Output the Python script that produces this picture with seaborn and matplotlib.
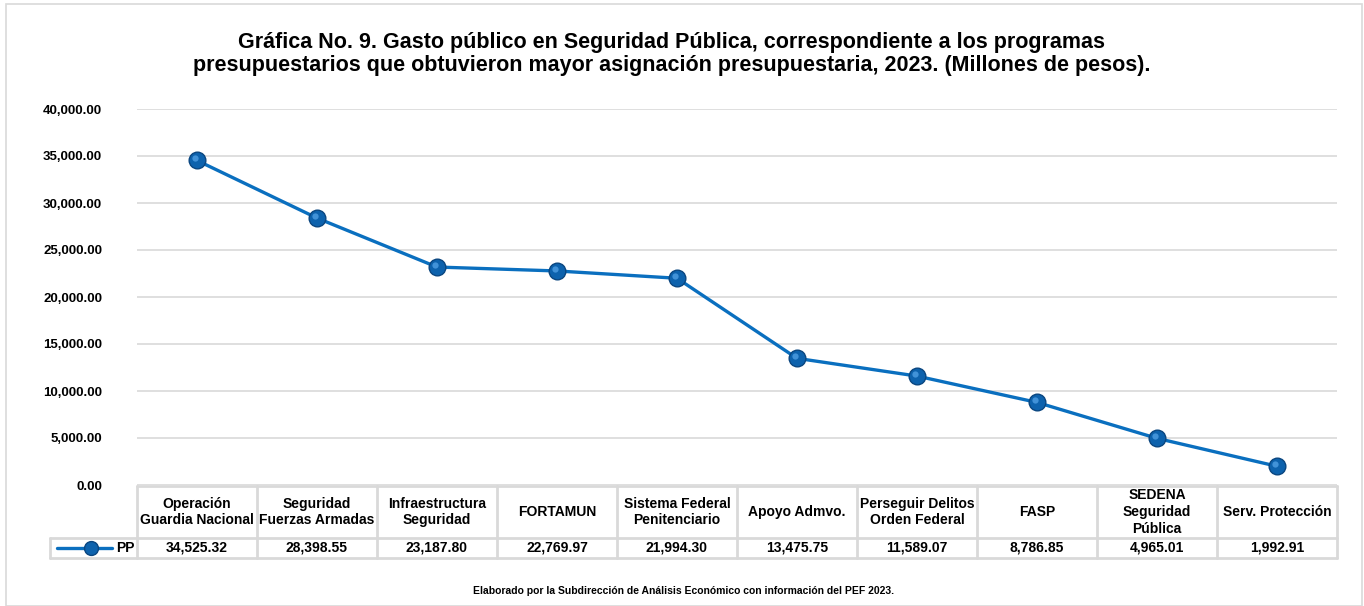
import matplotlib
matplotlib.use("Agg")
import matplotlib.pyplot as plt
import matplotlib.transforms as mtransforms
import seaborn as sns
import pandas as pd

# Data
programas = ["Operación\nGuardia Nacional", "Seguridad\nFuerzas Armadas", "Infraestructura\nSeguridad",
             "FORTAMUN", "Sistema Federal\nPenitenciario", "Apoyo Admvo.",
             "Perseguir Delitos\nOrden Federal", "FASP", "SEDENA\nSeguridad\nPública", "Serv. Protección"]
gasto = [34525.32, 28398.55, 23187.80, 22769.97, 21994.30, 13475.75, 11589.07, 8786.85, 4965.01, 1992.91]
serie = "PP"
titulo = ("Gráfica No. 9. Gasto público en Seguridad Pública, correspondiente a los programas\n"
          "presupuestarios que obtuvieron mayor asignación presupuestaria, 2023. (Millones de pesos).")
fuente = "Elaborado por la Subdirección de Análisis Económico con información del PEF 2023."

df = pd.DataFrame({"pos": range(len(programas)), "gasto": gasto})

sns.set_theme(style="white")
plt.rcParams['font.family'] = ['Liberation Sans', 'DejaVu Sans']
plt.rcParams['font.weight'] = 'bold'
plt.rcParams['text.color'] = 'black'
plt.rcParams['ytick.color'] = 'black'

W, H = 1364, 606
fig = plt.figure(figsize=(W / 100, H / 100), dpi=100)

# outer border
fig.patches.append(plt.Rectangle((6 / W, 0), 1356 / W, 1 - 4 / H, transform=fig.transFigure,
                                 fill=False, edgecolor='#D9D9D9', lw=1.2))

x0, x1 = 137, 1337
ax = fig.add_axes([x0 / W, 1 - 485 / H, (x1 - x0) / W, (485 - 109) / H])
line_c = '#0A6FBF'
sns.lineplot(data=df, x="pos", y="gasto", ax=ax, color=line_c, lw=2.4, marker='o', markersize=12,
             markerfacecolor='#0D62AD', markeredgecolor='#0A4680', markeredgewidth=1.0, zorder=3)
# small highlight on the markers
hl = mtransforms.offset_copy(ax.transData, fig=fig, x=-1.5, y=1.5, units='points')
ax.plot(df["pos"], df["gasto"], ls='none', marker='o', markersize=4.5, color='#4F9FE3', alpha=0.8,
        markeredgewidth=0, transform=hl, zorder=4)

ax.set_xlim(-0.5, len(programas) - 0.5)
ax.set_ylim(0, 40000)
ax.set_yticks(range(0, 40001, 5000))
ax.set_yticklabels([f"{v:,.2f}" for v in range(0, 40001, 5000)], fontsize=9.5, fontweight='bold')
ax.tick_params(axis='y', length=0, pad=25)
ax.set_xticks([])
ax.set_xlabel("")
ax.set_ylabel("")
ax.grid(axis='y', color='#D9D9D9', lw=1.2)
for s in ax.spines.values():
    s.set_visible(False)

# data table under the plot
tab = fig.add_axes([x0 / W, 1 - 558 / H, (x1 - x0) / W, (558 - 485) / H], sharex=ax)
tab.set_ylim(73, 0)
tab.axis('off')
gc = '#D9D9D9'
left = -0.5 - (x0 - 50) / 120
n = len(programas)
tab.plot([-0.5, n - 0.5], [0.5, 0.5], color=gc, lw=2, clip_on=False)
tab.plot([left, n - 0.5], [53, 53], color=gc, lw=2, clip_on=False)
tab.plot([left, n - 0.5], [72.5, 72.5], color=gc, lw=2, clip_on=False)
tab.plot([left, left], [53, 72.5], color=gc, lw=2, clip_on=False)
for k in range(n + 1):
    tab.plot([k - 0.5, k - 0.5], [0.5, 72.5], color=gc, lw=2, clip_on=False)
for i, (lab, v) in enumerate(zip(programas, gasto)):
    tab.text(i, 27, lab, ha='center', va='center', fontsize=10, fontweight='bold', linespacing=1.25)
    tab.text(i, 63, f"{v:,.2f}", ha='center', va='center', fontsize=10, fontweight='bold')

# legend key in the table
px = lambda p: (p - x0) / 120 - 0.5
tab.plot([px(57), px(112)], [63, 63], color=line_c, lw=2.4, clip_on=False)
tab.plot([px(91)], [63], marker='o', markersize=10, color='#0D62AD', markeredgecolor='#0A4680',
         clip_on=False)
tab.text(px(116), 63, serie, ha='left', va='center', fontsize=10, fontweight='bold')

fig.text(672 / W, 1 - 54 / H, titulo, ha='center', va='center', fontsize=15.5, fontweight='bold',
         linespacing=1.1)
fig.text(684 / W, 1 - 591 / H, fuente, ha='center', va='center', fontsize=7.5, fontweight='bold')

fig.savefig("out.png", dpi=100)
